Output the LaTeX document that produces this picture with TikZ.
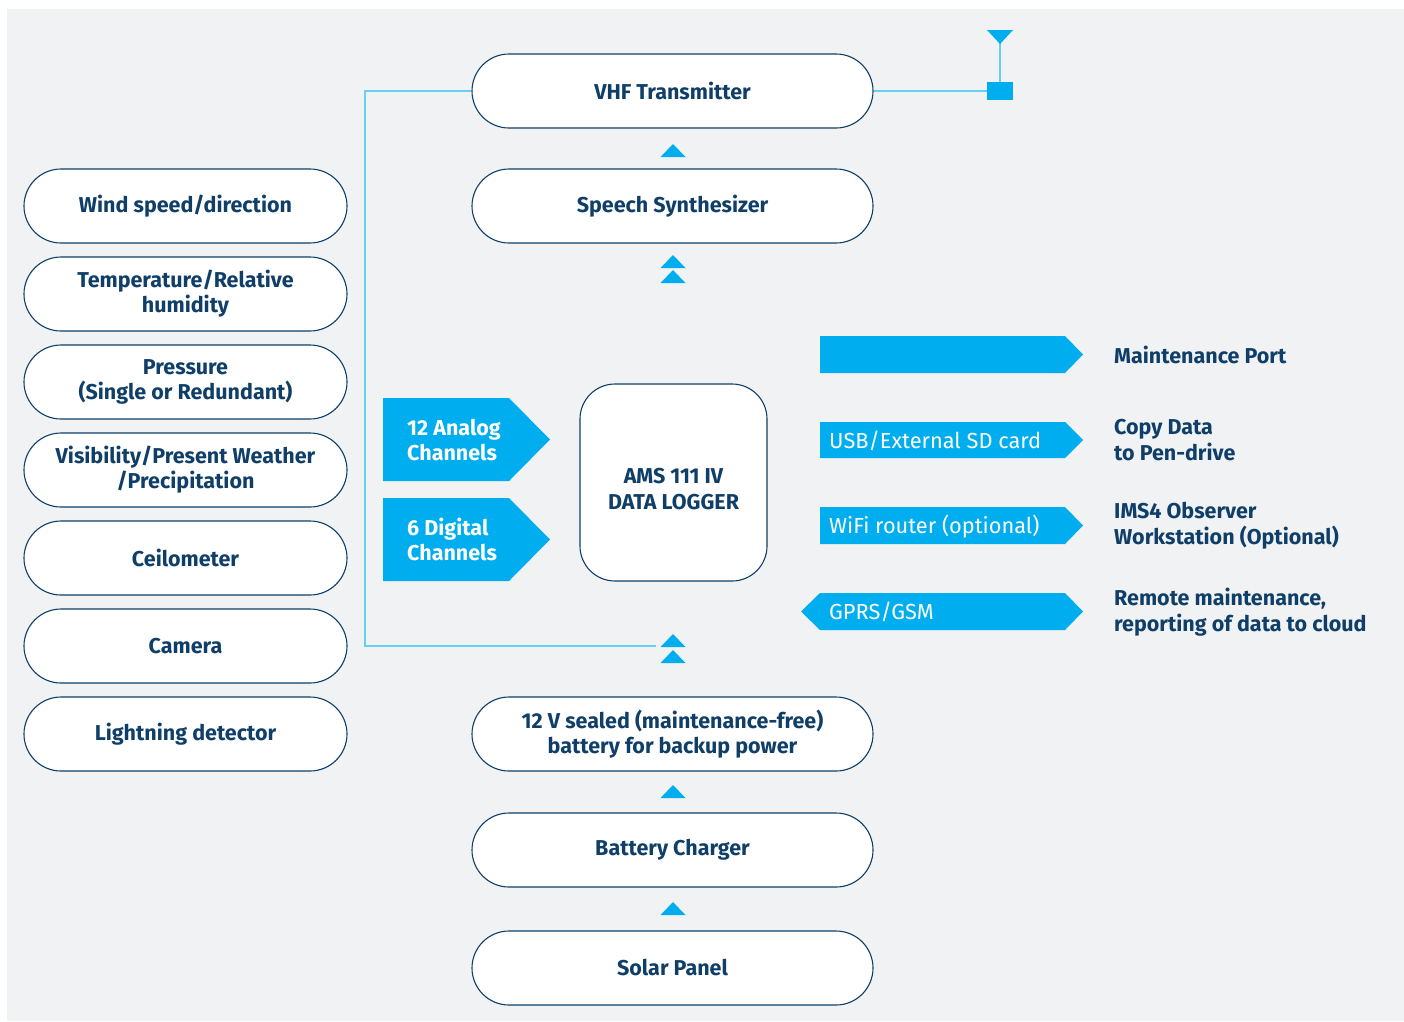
\documentclass[tikz,border=0pt]{standalone}
\usepackage{fontspec}
\setmainfont{Fira Sans}
\definecolor{navy}{HTML}{0F3F68}
\definecolor{cyanb}{HTML}{00AEEF}
\definecolor{lineb}{HTML}{6ACDF3}
\definecolor{bgc}{HTML}{F1F2F4}
\begin{document}
\begin{tikzpicture}[x=1pt,y=-1pt,
  pill/.style={draw=navy, line width=1.1pt, fill=white, rounded corners=37pt, minimum height=74pt, inner sep=0pt, align=center, font=\fontsize{21.5}{25}\selectfont\bfseries, text=navy},
  lpill/.style={pill, minimum width=323pt},
  cpill/.style={pill, minimum width=401pt},
  conn/.style={draw=lineb, line width=1.5pt},
  tri/.style={fill=cyanb},
  arrowtxt/.style={anchor=west, text=white, inner sep=0pt, align=left, font=\fontsize{21.8}{25}\selectfont},
  chantxt/.style={anchor=west, text=white, inner sep=0pt, align=left, font=\fontsize{21.5}{25}\selectfont\bfseries},
  lbl/.style={anchor=west, text=navy, inner sep=0pt, align=left, font=\fontsize{21.5}{25.5}\selectfont\bfseries}]
\useasboundingbox (0,0) rectangle (1404,1021);
\fill[white] (0,0) rectangle (1404,1021);
\fill[bgc] (7,9) rectangle (1404,1021);

% left column
\node[lpill] (wind) at (185.5,206) {Wind speed/direction};
\node[lpill] (temp) at (185.5,294) {Temperature/Relative\\humidity};
\node[lpill] (pres) at (185.5,382) {Pressure\\(Single or Redundant)};
\node[lpill] (vis) at (185.5,470) {Visibility/Present Weather\\/Precipitation};
\node[lpill] (ceil) at (185.5,558) {Ceilometer};
\node[lpill] (cam) at (185.5,646) {Camera};
\node[lpill] (light) at (185.5,734) {Lightning detector};

% center column
\node[cpill] (vhf) at (672.5,91) {VHF Transmitter};
\node[cpill] (speech) at (672.5,206) {Speech Synthesizer};
\node[cpill] (batt) at (672.5,734) {12 V sealed (maintenance-free)\\battery for backup power};
\node[cpill] (charger) at (672.5,850) {Battery Charger};
\node[cpill] (solar) at (672.5,968) {Solar Panel};

% data logger
\node[draw=navy, line width=1.1pt, fill=white, rounded corners=35pt, minimum width=187pt, minimum height=197pt] (logger) at (673.5,482.5) {};
\node[align=center, text=navy, inner sep=0pt, font=\fontsize{21.5}{26}\selectfont\bfseries] (loggertxt) at (673.5,489) {AMS 111 IV\\DATA LOGGER};

% channel arrows
\fill[cyanb] (383,398) -- (509,398) -- (550,439.5) -- (509,481) -- (383,481) -- cycle;
\node[chantxt] (analog) at (407,440) {12 Analog\\Channels};
\fill[cyanb] (383,498) -- (509,498) -- (550,539.5) -- (509,581) -- (383,581) -- cycle;
\node[chantxt] (digital) at (407,539.5) {6 Digital\\Channels};

% right arrows
\fill[cyanb] (820,336) -- (1065,336) -- (1083,354.5) -- (1065,373) -- (820,373) -- cycle;
\fill[cyanb] (820,422) -- (1065,422) -- (1083,440) -- (1065,458) -- (820,458) -- cycle;
\node[arrowtxt] (usb) at (829,441) {USB/External SD card};
\fill[cyanb] (820,507) -- (1065,507) -- (1083,525.5) -- (1065,544) -- (820,544) -- cycle;
\node[arrowtxt] (wifi) at (829,527) {WiFi router (optional)};
\fill[cyanb] (820,593) -- (1065,593) -- (1083,611.5) -- (1065,630) -- (820,630) -- (801,611.5) -- cycle;
\node[arrowtxt] (gprs) at (829,612) {GPRS/GSM};

% right labels
\node[lbl] (maint) at (1114,355) {Maintenance Port};
\node[lbl] (copy) at (1114,440) {Copy Data\\to Pen-drive};
\node[lbl] (ims) at (1114,525.5) {IMS4 Observer\\Workstation (Optional)};
\node[lbl] (remote) at (1114,612) {Remote maintenance,\\reporting of data to cloud};

% connector from VHF to logger
\coordinate (lc1) at (365,91);
\coordinate (lc2) at (365,646);
\coordinate (lend) at (656,646);
\draw[conn] (vhf.west) -- (lc1) -- (lc2) -- (lend);

% antenna
\node[fill=cyanb, minimum width=26pt, minimum height=18pt, inner sep=0pt] (ant) at (1000,91) {};
\coordinate (anttop) at (1000,42);
\draw[conn] (vhf.east) -- (ant.west);
\draw[conn] (ant.north) -- (anttop);
\fill[cyanb] (987,30) -- (1013,30) -- (1000,44) -- cycle;

% up triangles
\foreach \yb in {157,268,283,647,663,798,915}{
  \fill[tri] (660.5,\yb) -- (673,\yb-13) -- (685.5,\yb) -- cycle;
}
\end{tikzpicture}
\end{document}
